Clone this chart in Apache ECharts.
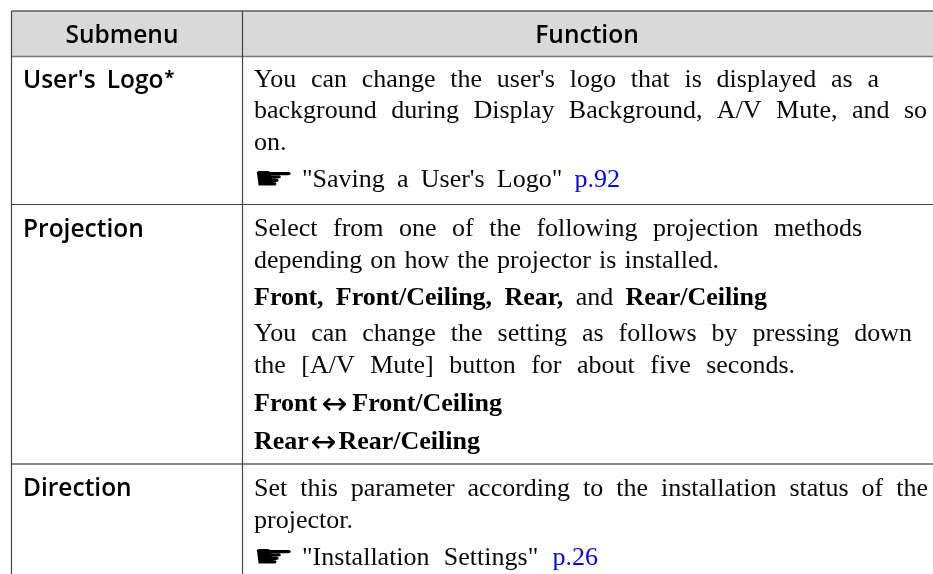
<!DOCTYPE html>
<html><head><meta charset="utf-8">
<script src="https://cdn.jsdelivr.net/npm/echarts@6/dist/echarts.min.js"></script>
<style>html,body{margin:0;padding:0;background:#fff}#c{width:933px;height:574px}</style>
</head><body><div id="c"></div>
<script>
const headers = ['Submenu', 'Function'];
const submenus = ["User's Logo*", 'Projection', 'Direction'];
const row1Lines = [
  [['You can change the user\'s logo that is displayed as a']],
  [['background during Display Background, A/V Mute, and so']],
  [['on.']],
  [['☛','h'],['"Saving a User\'s Logo"'],['p.92','l']]
];
const row2Lines = [
  [['Select from one of the following projection methods']],
  [['depending on how the projector is installed.']],
  [['Front,','b'],['Front/Ceiling,','b'],['Rear,','b'],['and'],['Rear/Ceiling','b']],
  [['You can change the setting as follows by pressing down']],
  [['the [A/V Mute] button for about five seconds.']],
  [['Front','b'],['↔','a'],['Front/Ceiling','b']],
  [['Rear','b'],['↔','a'],['Rear/Ceiling','b']]
];
const row3Lines = [
  [['Set this parameter according to the installation status of the']],
  [['projector.']],
  [['☛','h'],['"Installation Settings"'],['p.26','l']]
];
// layout
const lineEnds = [[879,927,null,620],[862,719,767,912,795,502,480],[928,null,598]];
const baselines = [[87,118,150,187],[236,268,305,341,373,411,449],[496,528,565]];
const subBaselines = [43,237,496];
const colX = [11.5,242.5,933], rowY = [11,56.5,204.5,464,574];
const SERIF = '"Liberation Serif"', SANS = '"Open Sans"';
const fonts = {
  n:`26px ${SERIF}`, b:`bold 26px ${SERIF}`, l:`26px ${SERIF}`, h:`32px "DejaVu Sans"`, a:`31px "DejaVu Sans"`
};
const colors = {n:'#0a0a0a',b:'#000',l:'#0000ee',h:'#000',a:'#000'};
const ctx = document.createElement('canvas').getContext('2d');
const measure=(t,f)=>{ctx.font=f;return ctx.measureText(t).width;};
const midOffset=(f)=>{ctx.font=f;ctx.textBaseline='middle';const m=ctx.measureText('x');const o=m.alphabeticBaseline;ctx.textBaseline='alphabetic';return -o;};
const els=[];
els.push({type:'rect',silent:true,shape:{x:colX[0],y:rowY[0],width:colX[2]-colX[0],height:rowY[1]-rowY[0]},style:{fill:'#d9d9d9'}});
const rowStyles=[{stroke:'#5a5a5a',lineWidth:1.5},{stroke:'#777',lineWidth:1.5},{stroke:'#444',lineWidth:1.2},{stroke:'#888',lineWidth:2}];
rowY.slice(0,4).forEach((y,i)=>els.push({type:'line',shape:{x1:colX[0],y1:y,x2:colX[2],y2:y},style:rowStyles[i],silent:true}));
[0,1].forEach(c=>els.push({type:'line',shape:{x1:colX[c],y1:rowY[0],x2:colX[c],y2:rowY[4]},style:{stroke:'#444',lineWidth:1.2},silent:true}));
const txt=(t,x,y,font,fill,align)=>els.push({type:'text',silent:true,style:{text:t,x,y:y-midOffset(font),font,fill,align:align||'left',verticalAlign:'middle'}});
const headFont=`600 24.5px ${SANS}`;
txt(headers[0],122,subBaselines[0],headFont,'#000','center');
txt(headers[1],587,subBaselines[0],headFont,'#000','center');
submenus.forEach((s,i)=>{
  if(i===0){
    const base=s.replace('*','');
    const [a,b]=base.split(' ');
    txt(a,23,88,headFont,'#000');
    const w0=measure(a,headFont);
    txt(b,23+w0+11,88,headFont,'#000');
    const w1=measure(b,headFont);
    txt('*',23+w0+11+w1+1,84,`700 18px ${SANS}`,'#000');
  } else txt(s,23,subBaselines[i],headFont,'#000');
});
const X0=254, HAND_TEXT_X=302, ARROW_DROP=3, HAND_DROP=2;
[row1Lines,row2Lines,row3Lines].forEach((rows,r)=>rows.forEach((runs,i)=>{
  let words=[];
  runs.forEach(([t,k])=>t.split(' ').forEach(w=>words.push([w,k||'n'])));
  let x=X0;
  const base=baselines[r][i];
  if(words[0][1]==='h'){
    const f=fonts.h;
    els.push({type:'text',silent:true,x:X0-1,y:base+HAND_DROP,scaleX:1.45,style:{text:words[0][0],x:0,y:-midOffset(f),font:f,fill:colors.h,align:'left',verticalAlign:'middle'}});
    words=words.slice(1);
    x=HAND_TEXT_X;
  }
  const ws=words.map(([w,k])=>measure(w,fonts[k]));
  const total=ws.reduce((a,b)=>a+b,0);
  const end=lineEnds[r][i];
  const gap=end!=null&&words.length>1?(end-x-total)/(words.length-1):6;
  words.forEach(([w,k],j)=>{txt(w,x,base+(k==='a'?ARROW_DROP:0),fonts[k],colors[k]);x+=ws[j]+gap;});
}));
const chart=echarts.init(document.getElementById('c'),null,{renderer:'canvas'});
chart.setOption({animation:false,backgroundColor:'#fff',graphic:{elements:els}});
</script></body></html>
